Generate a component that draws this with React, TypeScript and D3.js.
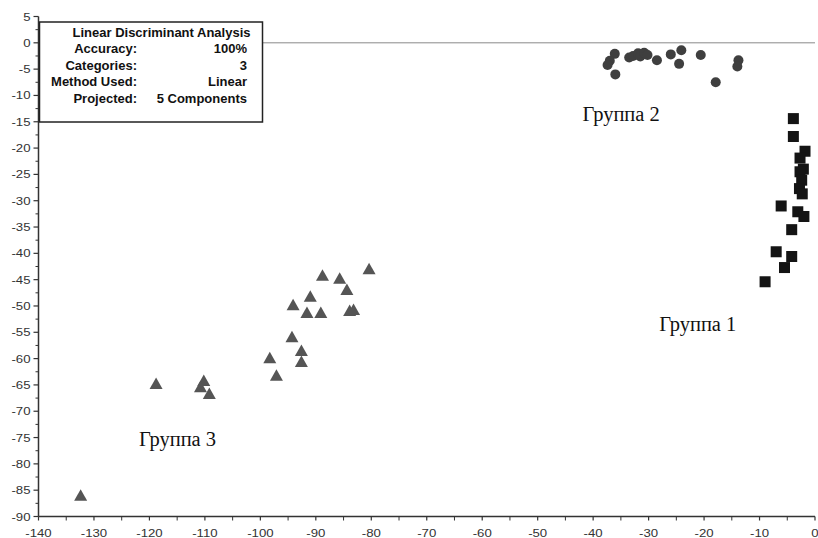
import React from "react";
import * as d3 from "d3";

const W = 818;
const H = 538;

// Group 1 (squares)
const group1X = [-3.9, -3.9, -1.8, -2.7, -2.1, -2.7, -2.4, -2.8, -2.3, -6.1, -3.1, -2.0, -4.2, -7.0, -4.2, -5.5, -9.0];
const group1Y = [-14.4, -17.8, -20.6, -21.9, -24.0, -24.5, -26.1, -27.7, -28.7, -31.0, -32.1, -33.0, -35.5, -39.7, -40.6, -42.7, -45.4];

// Group 2 (circles)
const group2X = [-36.1, -37.0, -37.4, -36.0, -33.5, -32.8, -31.9, -31.5, -30.8, -30.2, -28.5, -26.0, -24.1, -24.5, -20.6, -17.9, -13.8, -14.0];
const group2Y = [-2.1, -3.4, -4.2, -6.0, -2.8, -2.5, -2.0, -2.6, -1.9, -2.3, -3.3, -2.2, -1.4, -4.0, -2.3, -7.5, -3.3, -4.5];

// Group 3 (triangles)
const group3X = [-80.4, -88.8, -85.7, -84.4, -91.0, -94.1, -91.6, -89.1, -83.9, -83.2, -94.3, -92.6, -92.6, -98.3, -97.1, -118.8, -110.2, -110.8, -109.2, -132.4];
const group3Y = [-42.9, -44.1, -44.7, -46.8, -48.1, -49.7, -51.2, -51.2, -50.8, -50.6, -55.8, -58.4, -60.5, -59.8, -63.1, -64.7, -64.1, -65.3, -66.6, -85.9];

const xTicks = d3.range(-140, 1, 10);
const xMinorTicks = d3.range(-135, 0, 10);
const yTicks = d3.range(5, -91, -5);
const yMinorTicks = d3.range(2.5, -90, -5);

const groupLabels = ["Группа 1", "Группа 2", "Группа 3"];
const groupLabelX = [-28.1, -41.9, -121.9];
const groupLabelY = [-54.8, -14.8, -76.6];

const infoTitle = "Linear Discriminant Analysis";
const infoLabels = ["Accuracy:", "Categories:", "Method Used:", "Projected:"];
const infoValues = ["100%", "3", "Linear", "5 Components"];

const x = d3.scaleLinear().domain([-140, 0]).range([38.5, 815]);
const y = d3.scaleLinear().domain([5, -90]).range([16.5, 516.5]);

const AX = "#333";
const tickFont = "Arial, 'Liberation Sans', sans-serif";

function tri(cx: number, cy: number, w = 13, h = 11.5) {
  return `M${cx},${cy - h / 2}L${cx + w / 2},${cy + h / 2}L${cx - w / 2},${cy + h / 2}Z`;
}

export default function App() {
  const x0 = x(-140);
  const y0 = y(-90);
  return (
    <svg
      width={W}
      height={H}
      style={{ position: "absolute", left: 0, top: 0, background: "#fff" }}
    >
      <rect x={0} y={0} width={W} height={H} fill="#fff" />
      {/* zero line */}
      <line x1={x0} x2={x(0)} y1={y(0)} y2={y(0)} stroke="#8a8a8a" strokeWidth={1} />

      {/* Y axis */}
      <line x1={x0} x2={x0} y1={y(5)} y2={y0} stroke={AX} strokeWidth={1.5} />
      {yTicks.map((t) => (
        <g key={"yt" + t}>
          <line x1={x0 - 5} x2={x0} y1={y(t)} y2={y(t)} stroke={AX} strokeWidth={1.2} />
          <text
            transform={`translate(${x0 - 8},${y(t) + 4}) scale(1.2,1)`}
            textAnchor="end"
            fontFamily={tickFont}
            fontSize={11}
            fill="#333"
          >
            {t}
          </text>
        </g>
      ))}
      {yMinorTicks.map((t) => (
        <line key={"ym" + t} x1={x0 - 3} x2={x0} y1={y(t)} y2={y(t)} stroke={AX} strokeWidth={1} />
      ))}

      {/* X axis */}
      <line x1={x0} x2={x(0)} y1={y0} y2={y0} stroke={AX} strokeWidth={1.5} />
      {xTicks.map((t) => (
        <g key={"xt" + t}>
          <line x1={x(t)} x2={x(t)} y1={y0} y2={y0 + 4} stroke={AX} strokeWidth={1.2} />
          <text
            transform={`translate(${x(t)},${536.5}) scale(1.2,1)`}
            textAnchor="middle"
            fontFamily={tickFont}
            fontSize={11}
            fill="#333"
          >
            {t}
          </text>
        </g>
      ))}
      {xMinorTicks.map((t) => (
        <line key={"xm" + t} x1={x(t)} x2={x(t)} y1={y0} y2={y0 + 4} stroke={AX} strokeWidth={1} />
      ))}

      {/* Group 2 circles */}
      {group2X.map((v, i) => (
        <circle key={"c" + i} cx={x(v)} cy={y(group2Y[i])} r={5} fill="#3f3f3f" />
      ))}
      {/* Group 1 squares */}
      {group1X.map((v, i) => (
        <rect
          key={"s" + i}
          x={x(v) - 5.5}
          y={y(group1Y[i]) - 5.5}
          width={11}
          height={11}
          fill="#141414"
        />
      ))}
      {/* Group 3 triangles */}
      {group3X.map((v, i) => (
        <path key={"t" + i} d={tri(x(v), y(group3Y[i]))} fill="#555" />
      ))}

      {/* group labels */}
      {groupLabels.map((l, i) => (
        <text
          key={"gl" + i}
          x={x(groupLabelX[i])}
          y={y(groupLabelY[i])}
          fontFamily="'Times New Roman', 'Liberation Serif', serif"
          fontSize={20.5}
          fill="#111"
        >
          {l}
        </text>
      ))}

      {/* info box */}
      <rect x={x0 + 1} y={22} width={223} height={100} fill="#fff" stroke="#222" strokeWidth={1.5} />
      <text
        x={250.5}
        y={36.5}
        textAnchor="end"
        fontFamily={tickFont}
        fontWeight="bold"
        fontSize={13}
        fill="#111"
      >
        {infoTitle}
      </text>
      {infoLabels.map((l, i) => (
        <g key={"il" + i}>
          <text
            x={137}
            y={53 + i * 16.5}
            textAnchor="end"
            fontFamily={tickFont}
            fontWeight="bold"
            fontSize={13}
            fill="#111"
          >
            {l}
          </text>
          <text
            x={247}
            y={53 + i * 16.5}
            textAnchor="end"
            fontFamily={tickFont}
            fontWeight="bold"
            fontSize={13}
            fill="#111"
          >
            {infoValues[i]}
          </text>
        </g>
      ))}
    </svg>
  );
}
